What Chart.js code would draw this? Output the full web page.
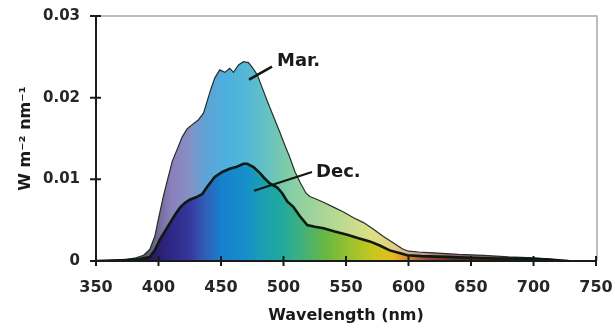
<!DOCTYPE html>
<html>
<head>
<meta charset="utf-8">
<script src="https://cdn.jsdelivr.net/npm/chart.js@4/dist/chart.umd.min.js"></script>
<style>
  html, body { margin: 0; padding: 0; background: #ffffff; }
  #wrap { width: 615px; height: 330px; position: relative; }
</style>
</head>
<body>
<div id="wrap"><canvas id="c" width="615" height="330"></canvas></div>
<script>
// ---- Data (wavelength in nm, irradiance in W m-2 nm-1) ----
const marWavelengths = [350, 365, 375, 382, 388, 393, 397, 400, 404, 407, 411, 415, 419, 423, 427, 432, 436, 439, 442, 445, 449, 453, 457, 460, 464, 468, 472, 475, 479, 483, 487, 492, 497, 501, 505, 509, 513, 518, 521, 526, 532, 540, 548, 556, 564, 572, 580, 588, 595, 600, 608, 620, 640, 660, 680, 700, 715, 725];
const marIrradiance = [0, 0.0001, 0.0002, 0.0004, 0.0007, 0.0014, 0.0030, 0.0052, 0.0080, 0.0098, 0.0122, 0.0137, 0.0152, 0.0162, 0.0167, 0.0173, 0.0181, 0.0196, 0.0211, 0.0224, 0.0234, 0.0231, 0.0236, 0.0231, 0.0240, 0.0244, 0.0243, 0.0237, 0.0228, 0.0212, 0.0196, 0.0177, 0.0158, 0.0142, 0.0127, 0.0110, 0.0097, 0.0083, 0.0079, 0.0076, 0.0072, 0.0066, 0.0060, 0.0053, 0.0047, 0.0039, 0.0030, 0.0022, 0.0015, 0.0012, 0.0011, 0.0010, 0.0008, 0.0007, 0.0005, 0.0004, 0.0002, 0];

const decWavelengths = [350, 370, 385, 393, 397, 401, 405, 409, 413, 417, 421, 425, 430, 435, 439, 445, 451, 457, 462, 468, 471, 476, 481, 485, 489, 495, 499, 503, 508, 513, 519, 525, 532, 541, 551, 560, 569, 577, 585, 592, 599, 610, 630, 650, 670, 690, 710, 728];
const decIrradiance = [0, 0.0001, 0.0002, 0.0005, 0.0013, 0.0026, 0.0036, 0.0046, 0.0056, 0.0065, 0.0071, 0.0075, 0.0078, 0.0082, 0.0091, 0.0103, 0.0109, 0.0113, 0.0115, 0.0119, 0.0119, 0.0115, 0.0108, 0.0101, 0.0095, 0.0090, 0.0083, 0.0073, 0.0066, 0.0055, 0.0044, 0.0042, 0.0040, 0.0036, 0.0032, 0.0028, 0.0024, 0.0019, 0.0013, 0.0010, 0.0007, 0.0006, 0.0005, 0.0004, 0.0003, 0.0003, 0.0002, 0];

const xTickValues = [350, 400, 450, 500, 550, 600, 650, 700, 750];
const yTickValues = [0, 0.01, 0.02, 0.03];
const seriesLabels = ['Mar.', 'Dec.'];
const xAxisTitle = 'Wavelength (nm)';
const yAxisTitle = 'W m\u207B\u00B2 nm\u207B\u00B9';

// ---- Styling ----
const FONT = '"DejaVu Sans", "Liberation Sans", Arial, sans-serif';
const decSpectrum = [
  [350, '#101010'], [385, '#1a1222'], [398, '#2a1e6a'], [410, '#2e2888'], [425, '#36389c'],
  [438, '#3060b8'], [450, '#1680cc'], [470, '#178fca'], [482, '#1a9eb2'], [497, '#20a8a0'],
  [513, '#3cb080'], [535, '#6cb840'], [552, '#98c030'], [572, '#c8c820'], [588, '#e8b820'],
  [600, '#d08838'], [615, '#9a4a38'], [640, '#6a2828'], [680, '#4a1a1a'], [720, '#201010'], [750, '#101010']
];
const marSpectrum = [
  [350, '#303030'], [385, '#505050'], [398, '#6e6690'], [410, '#8a80bc'], [425, '#8490c4'],
  [437, '#60a2d6'], [455, '#4cb0de'], [470, '#54b8d6'], [485, '#64c0c6'], [497, '#74c8b0'],
  [510, '#8cd0a2'], [540, '#b4d892'], [570, '#dce084'], [590, '#e8ca84'], [605, '#d0a292'],
  [630, '#a07272'], [680, '#805a5a'], [720, '#604848'], [750, '#504040']
];

function spectrumFill(stops, fallback) {
  return function (context) {
    const chart = context.chart;
    const area = chart.chartArea;
    const xs = chart.scales.x;
    if (!area || !xs) return fallback;
    const x0 = xs.getPixelForValue(350), x1 = xs.getPixelForValue(750);
    const g = chart.ctx.createLinearGradient(x0, 0, x1, 0);
    stops.forEach(([wl, col]) => g.addColorStop((wl - 350) / 400, col));
    return g;
  };
}

function toPoints(xs, ys) { return xs.map((x, i) => ({ x: x, y: ys[i] })); }

// annotation anchors (data coordinates)
const annotations = [
  { text: seriesLabels[0], from: [472.4, 0.0222], to: [490.8, 0.0238], textAt: [494.8, 0.0244], lw: 2.5 },
  { text: seriesLabels[1], from: [476.4, 0.0086], to: [522.8, 0.0109], textAt: [526, 0.0109], lw: 2 }
];

const framePlugin = {
  id: 'frame',
  afterDatasetsDraw(chart) {
    const { ctx, chartArea: a, scales } = chart;
    ctx.save();
    // gray frame top and right
    ctx.strokeStyle = '#a8a8a8';
    ctx.lineWidth = 1.5;
    ctx.beginPath();
    ctx.moveTo(a.left, a.top); ctx.lineTo(a.right + 1, a.top); ctx.lineTo(a.right + 1, a.bottom);
    ctx.stroke();
    // axes
    ctx.strokeStyle = '#1a1a1a';
    ctx.lineWidth = 2;
    ctx.beginPath();
    ctx.moveTo(a.left, a.top); ctx.lineTo(a.left, a.bottom + 1);
    ctx.moveTo(a.left - 1, a.bottom); ctx.lineTo(a.right + 1, a.bottom);
    ctx.stroke();
    // crossing tick marks
    ctx.lineWidth = 2;
    ctx.beginPath();
    scales.x.ticks.forEach(t => {
      const px = scales.x.getPixelForValue(t.value);
      ctx.moveTo(px, a.bottom - 5); ctx.lineTo(px, a.bottom + 5);
    });
    scales.y.ticks.forEach(t => {
      const py = scales.y.getPixelForValue(t.value);
      ctx.moveTo(a.left - 6, py); ctx.lineTo(a.left + 5, py);
    });
    ctx.stroke();
    // annotations
    annotations.forEach(an => {
      const fx = scales.x.getPixelForValue(an.from[0]), fy = scales.y.getPixelForValue(an.from[1]);
      const tx = scales.x.getPixelForValue(an.to[0]), ty = scales.y.getPixelForValue(an.to[1]);
      ctx.strokeStyle = '#101810';
      ctx.lineWidth = an.lw;
      ctx.beginPath(); ctx.moveTo(fx, fy); ctx.lineTo(tx, ty); ctx.stroke();
      ctx.fillStyle = '#1a1a1a';
      ctx.font = 'bold 18px ' + FONT;
      ctx.textAlign = 'left';
      ctx.textBaseline = 'middle';
      ctx.fillText(an.text, scales.x.getPixelForValue(an.textAt[0]), scales.y.getPixelForValue(an.textAt[1]));
    });
    ctx.restore();
  }
};

new Chart(document.getElementById('c'), {
  type: 'line',
  data: {
    datasets: [
      {
        label: seriesLabels[1],
        data: toPoints(decWavelengths, decIrradiance),
        borderColor: '#0c1a10',
        borderWidth: 2.6,
        backgroundColor: spectrumFill(decSpectrum, '#1680cc'),
        fill: 'origin',
        pointRadius: 0,
        tension: 0,
        order: 1
      },
      {
        label: seriesLabels[0],
        data: toPoints(marWavelengths, marIrradiance),
        borderColor: '#25302a',
        borderWidth: 1.2,
        backgroundColor: spectrumFill(marSpectrum, '#48b0e0'),
        fill: 'origin',
        pointRadius: 0,
        tension: 0,
        order: 2
      }
    ]
  },
  options: {
    responsive: false,
    animation: false,
    events: [],
    layout: { padding: { top: 16, right: 19, left: 0, bottom: 0 } },
    plugins: { legend: { display: false }, tooltip: { enabled: false } },
    scales: {
      x: {
        type: 'linear',
        min: 350, max: 750,
        afterFit(s) { s.height = 69; s.paddingLeft = 0; s.paddingRight = 0; },
        afterBuildTicks(s) { s.ticks = xTickValues.map(v => ({ value: v })); },
        grid: { display: false, drawTicks: false },
        border: { display: false },
        ticks: {
          padding: 17,
          color: '#262626',
          font: { family: FONT, size: 16, weight: 'bold' },
          maxRotation: 0,
          callback: v => String(v)
        },
        title: {
          display: true, text: xAxisTitle, color: '#1a1a1a',
          font: { family: FONT, size: 16, weight: 'bold' },
          padding: { top: 0, bottom: 5 }
        }
      },
      y: {
        type: 'linear',
        min: 0, max: 0.03,
        afterFit(s) { s.width = 96; s.paddingTop = 0; s.paddingBottom = 0; },
        afterBuildTicks(s) { s.ticks = yTickValues.map(v => ({ value: v })); },
        grid: { display: false, drawTicks: false },
        border: { display: false },
        ticks: {
          padding: 16,
          color: '#262626',
          font: { family: FONT, size: 15, weight: 'bold' },
          callback: v => (v === 0 ? '0' : Number(v).toFixed(2))
        },
        title: {
          display: true, text: yAxisTitle, color: '#1a1a1a',
          font: { family: FONT, size: 16, weight: 'bold' },
          padding: { top: 16, bottom: 0 }
        }
      }
    }
  },
  plugins: [framePlugin]
});
</script>
</body>
</html>
